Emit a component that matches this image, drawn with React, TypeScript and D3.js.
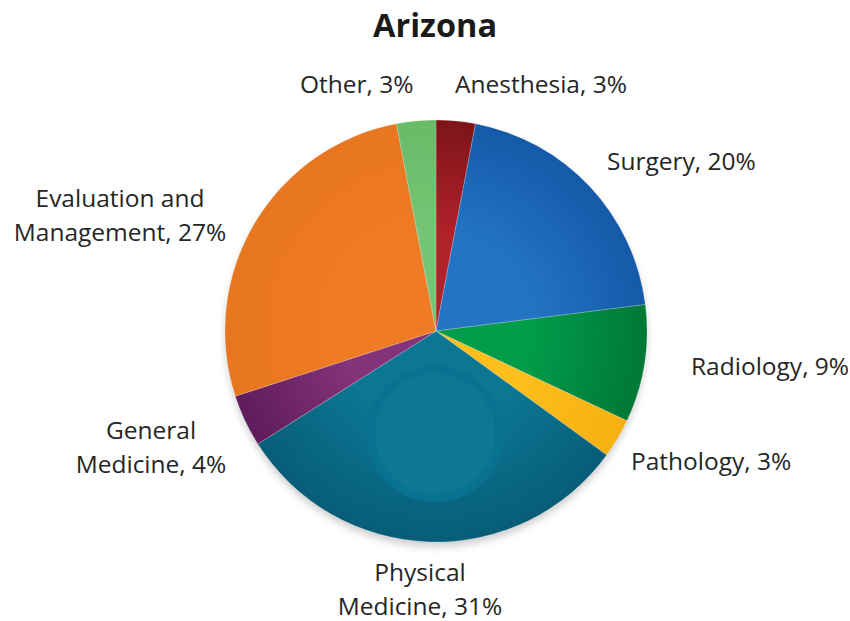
import React, { useRef, useEffect } from "react";
import * as d3 from "d3";

const categories = [
  "Anesthesia",
  "Surgery",
  "Radiology",
  "Pathology",
  "Physical Medicine",
  "General Medicine",
  "Evaluation and Management",
  "Other",
];
const shares = [3, 20, 9, 3, 31, 4, 27, 3];
const labelLines = [
  ["Anesthesia, 3%"],
  ["Surgery, 20%"],
  ["Radiology, 9%"],
  ["Pathology, 3%"],
  ["Physical", "Medicine, 31%"],
  ["General", "Medicine, 4%"],
  ["Evaluation and", "Management, 27%"],
  ["Other, 3%"],
];
// [inner, outer] colour of each slice's radial shading
const colors: [string, string][] = [
  ["#b3212a", "#7c1518"],
  ["#2474c4", "#145aa8"],
  ["#009c4a", "#007836"],
  ["#fdbf1c", "#f5b012"],
  ["#0b7793", "#075d78"],
  ["#843279", "#5e1c5a"],
  ["#ef7b25", "#e8751f"],
  ["#76c574", "#69bb68"],
];

interface Datum {
  label: string;
  value: number;
  idx: number;
}

export default function App() {
  const svgRef = useRef<SVGSVGElement>(null);
  const width = 850;
  const height = 621;

  useEffect(() => {
    if (!svgRef.current) return;
    const svg = d3.select(svgRef.current);
    svg.selectAll("*").remove();

    const cx = 436;
    const cy = 331;
    const r = 211;
    const font = "'Open Sans', 'Liberation Sans', sans-serif";

    const data: Datum[] = categories.map((c, i) => ({ label: c, value: shares[i], idx: i }));

    const defs = svg.append("defs");
    const shadow = defs
      .append("filter")
      .attr("id", "shadow")
      .attr("x", "-20%")
      .attr("y", "-20%")
      .attr("width", "140%")
      .attr("height", "140%");
    shadow.append("feGaussianBlur").attr("stdDeviation", 4);

    colors.forEach(([inner, outer], i) => {
      const grad = defs
        .append("radialGradient")
        .attr("id", `g${i}`)
        .attr("gradientUnits", "userSpaceOnUse")
        .attr("cx", 0)
        .attr("cy", 0)
        .attr("r", r);
      grad.append("stop").attr("offset", "0%").attr("stop-color", inner);
      grad.append("stop").attr("offset", "45%").attr("stop-color", inner);
      grad.append("stop").attr("offset", "100%").attr("stop-color", outer);
    });

    // Title
    svg
      .append("text")
      .attr("x", 435)
      .attr("y", 37)
      .attr("text-anchor", "middle")
      .style("font-family", font)
      .style("font-size", "32.5px")
      .style("font-weight", "700")
      .style("fill", "#1a1a1a")
      .text("Arizona");

    const g = svg.append("g").attr("transform", `translate(${cx},${cy})`);

    // soft shadow under the pie
    g.append("circle")
      .attr("cx", 0)
      .attr("cy", 5)
      .attr("r", r - 1)
      .attr("fill", "#9a9a9a")
      .attr("opacity", 0.55)
      .attr("filter", "url(#shadow)");

    const pie = d3
      .pie<Datum>()
      .value((d) => d.value)
      .sort(null);
    const arcs = pie(data);
    const arc = d3.arc<d3.PieArcDatum<Datum>>().innerRadius(0).outerRadius(r);

    g.selectAll(".slice")
      .data(arcs)
      .join("path")
      .attr("class", "slice")
      .attr("d", arc)
      .attr("fill", (d) => `url(#g${d.data.idx})`)
      .attr("stroke", "#ffffff")
      .attr("stroke-width", 0.4)
      .attr("stroke-opacity", 0.5);

    // faint ring artefact inside Physical Medicine
    g.append("circle")
      .attr("cx", -1)
      .attr("cy", 103)
      .attr("r", 64)
      .attr("fill", "#0c7894")
      .attr("stroke", "#087390")
      .attr("stroke-width", 8);

    // Labels placed outside the pie
    const labelPos: [number, number, string][] = [
      [455, 93, "start"],
      [607, 170, "start"],
      [691, 375, "start"],
      [631, 470, "start"],
      [420, 581, "middle"],
      [151, 439, "middle"],
      [120, 207, "middle"],
      [300, 93, "start"],
    ];

    const labels = svg
      .selectAll(".lbl")
      .data(arcs)
      .join("text")
      .attr("class", "lbl")
      .attr("x", (d) => labelPos[d.data.idx][0])
      .attr("y", (d) => labelPos[d.data.idx][1])
      .attr("text-anchor", (d) => labelPos[d.data.idx][2])
      .style("font-family", font)
      .style("font-size", "24.5px")
      .style("fill", "#262626");

    labels
      .selectAll("tspan")
      .data((d) => labelLines[d.data.idx].map((t) => ({ t, x: labelPos[d.data.idx][0] })))
      .join("tspan")
      .attr("x", (d) => d.x)
      .attr("dy", (_d, i) => (i === 0 ? 0 : 34))
      .text((d) => d.t);
  }, []);

  return (
    <div style={{ position: "absolute", left: 0, top: 0 }}>
      <svg ref={svgRef} width={width} height={height} style={{ display: "block", background: "#fff" }} />
    </div>
  );
}
